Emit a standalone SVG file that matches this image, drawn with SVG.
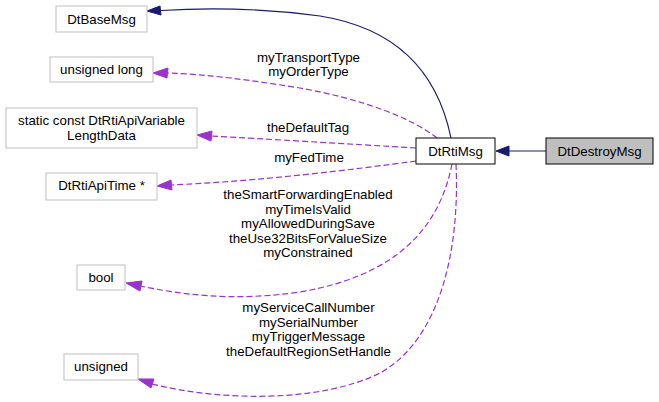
<svg xmlns="http://www.w3.org/2000/svg" width="659" height="402" viewBox="0 0 659 402">
<style>
text{font-family:"Liberation Sans",Arial,sans-serif;font-size:13.3px;fill:#000}
.c{text-anchor:middle}
.n{fill:#fff;stroke:#bfbfbf;stroke-width:1}
.inh{fill:none;stroke:#191970;stroke-width:1.2}
.inhh{fill:#191970;stroke:#191970}
.use{fill:none;stroke:#9a32cd;stroke-width:1.2;stroke-dasharray:6,3}
.useh{fill:#9a32cd;stroke:#9a32cd}
</style>
<rect width="659" height="402" fill="#fff"/>
<g id="connectors">
<path class="inh" d="M546,151 L509,151"/>
<polygon class="inhh" points="509,146 496,151 509,156"/>
<path class="inh" d="M451,138 C437,70 395,28 320,16 C260,8 200,8 161,10.5"/>
<polygon class="inhh" points="160,6 147,11 161,15"/>
<path class="use" d="M437,138 C412,118 362,99 300,88 C250,80 205,74 167,73"/>
<polygon class="useh" points="168,68 153,73 167,78"/>
<path class="use" d="M416,148 C350,144 265,139 211,136"/>
<polygon class="useh" points="212,131 197,135 211,141"/>
<path class="use" d="M416,161 C350,170 260,181 171,185"/>
<polygon class="useh" points="171,180 157,186 172,190"/>
<path class="use" d="M452,164 C440,225 400,275 300,292 C230,302 180,294 140,286"/>
<polygon class="useh" points="142,281 126,283 140,291"/>
<path class="use" d="M456,164 C460,250 440,340 380,373 C320,403 220,401 152,384"/>
<polygon class="useh" points="154,379 138,379 151,388"/>
</g>
<g id="labels">
<text class="c" x="308.5" y="61.5">myTransportType</text>
<text class="c" x="308.5" y="75.5">myOrderType</text>
<text class="c" x="308" y="132">theDefaultTag</text>
<text class="c" x="309" y="162">myFedTime</text>
<text class="c" x="308" y="199">theSmartForwardingEnabled</text>
<text class="c" x="308" y="213.5">myTimeIsValid</text>
<text class="c" x="308" y="228">myAllowedDuringSave</text>
<text class="c" x="308" y="242.5">theUse32BitsForValueSize</text>
<text class="c" x="308" y="257">myConstrained</text>
<text class="c" x="308.5" y="312">myServiceCallNumber</text>
<text class="c" x="308.5" y="326.5">mySerialNumber</text>
<text class="c" x="308.5" y="341">myTriggerMessage</text>
<text class="c" x="308.5" y="355.5">theDefaultRegionSetHandle</text>
</g>
<g id="DtBaseMsg"><rect class="n" x="56" y="6" width="91" height="26"/><text class="c" x="101.5" y="23.5">DtBaseMsg</text></g>
<g id="unsignedlong"><rect class="n" x="50" y="57" width="103" height="25"/><text class="c" x="101.5" y="74">unsigned long</text></g>
<g id="staticconst"><rect class="n" x="6" y="108" width="191" height="40"/><text class="c" x="101.5" y="125">static const DtRtiApiVariable</text><text class="c" x="101.5" y="140">LengthData</text></g>
<g id="DtRtiApiTime"><rect class="n" x="46" y="173" width="111" height="27"/><text class="c" x="101.5" y="190">DtRtiApiTime *</text></g>
<g id="bool"><rect class="n" x="77" y="265" width="48" height="25"/><text class="c" x="101" y="282">bool</text></g>
<g id="unsigned"><rect class="n" x="64" y="354" width="74" height="26"/><text class="c" x="101" y="371">unsigned</text></g>
<g id="DtRtiMsg"><rect x="416" y="138" width="79" height="26" fill="#fff" stroke="#000"/><text class="c" x="455.5" y="155.5">DtRtiMsg</text></g>
<g id="DtDestroyMsg"><rect x="546" y="138" width="107" height="26" fill="#bfbfbf" stroke="#000"/><text class="c" x="599.5" y="155.5">DtDestroyMsg</text></g>
</svg>
